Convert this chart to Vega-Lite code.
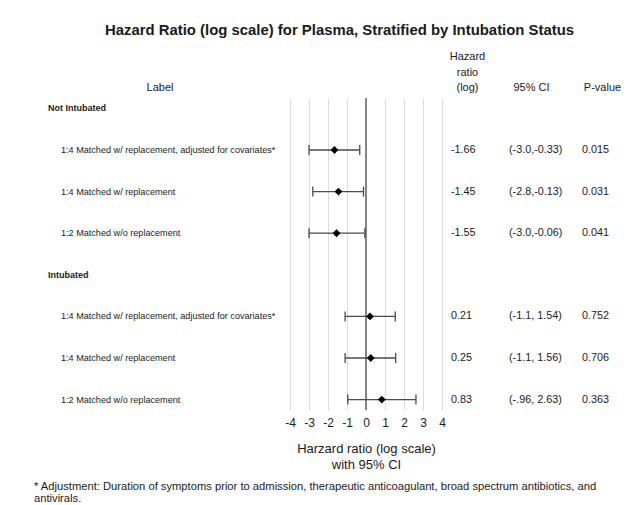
{
  "$schema": "https://vega.github.io/schema/vega-lite/v6.json",
  "background": "white",
  "padding": {"left": 34, "top": 23, "right": 5, "bottom": 5},
  "config": {
    "font": "Liberation Sans",
    "view": {"stroke": null},
    "concat": {"spacing": 0},
    "title": {"color": "#1a1a1a", "fontWeight": "normal", "font": "Liberation Sans"},
    "text": {"color": "#1a1a1a"},
    "axisX": {
      "grid": true,
      "gridColor": "#dcdcdc",
      "gridWidth": 1,
      "domain": false,
      "ticks": false,
      "tickCount": 9,
      "labelOverlap": false,
      "labelFlush": false,
      "labelFontSize": 12,
      "labelColor": "#1a1a1a",
      "labelPadding": 7,
      "labelExpr": "'' + datum.value",
      "titleFontSize": 13,
      "titleFontWeight": "normal",
      "titleColor": "#1a1a1a",
      "titleLineHeight": 16,
      "titlePadding": 14
    }
  },
  "datasets": {
    "rows": [
      {"id": "1", "kind": "group", "label": "Not Intubated"},
      {"id": "2", "kind": "item", "label": "1:4 Matched w/ replacement, adjusted for covariates*", "est": -1.66, "lo": -3.0, "hi": -0.33, "hr_text": "-1.66", "ci_text": "(-3.0,-0.33)", "p_text": "0.015"},
      {"id": "3", "kind": "item", "label": "1:4 Matched w/ replacement", "est": -1.45, "lo": -2.8, "hi": -0.13, "hr_text": "-1.45", "ci_text": "(-2.8,-0.13)", "p_text": "0.031"},
      {"id": "4", "kind": "item", "label": "1:2 Matched w/o replacement", "est": -1.55, "lo": -3.0, "hi": -0.06, "hr_text": "-1.55", "ci_text": "(-3.0,-0.06)", "p_text": "0.041"},
      {"id": "5", "kind": "group", "label": "Intubated"},
      {"id": "6", "kind": "item", "label": "1:4 Matched w/ replacement, adjusted for covariates*", "est": 0.21, "lo": -1.1, "hi": 1.54, "hr_text": "0.21", "ci_text": "(-1.1, 1.54)", "p_text": "0.752"},
      {"id": "7", "kind": "item", "label": "1:4 Matched w/ replacement", "est": 0.25, "lo": -1.1, "hi": 1.56, "hr_text": "0.25", "ci_text": "(-1.1, 1.56)", "p_text": "0.706"},
      {"id": "8", "kind": "item", "label": "1:2 Matched w/o replacement", "est": 0.83, "lo": -0.96, "hi": 2.63, "hr_text": "0.83", "ci_text": "(-.96, 2.63)", "p_text": "0.363"}
    ]
  },
  "title": {
    "text": ["* Adjustment: Duration of symptoms prior to admission, therapeutic anticoagulant, broad spectrum antibiotics, and", "antivirals."],
    "orient": "bottom",
    "anchor": "start",
    "fontSize": 11.2,
    "lineHeight": 12,
    "offset": 10,
    "dx": -14
  },
  "vconcat": [
    {
      "title": {
        "text": "Hazard Ratio (log scale) for Plasma, Stratified by Intubation Status",
        "fontSize": 14.9,
        "fontWeight": "bold",
        "anchor": "middle",
        "offset": 13,
        "dx": 2
      },
      "bounds": "flush",
      "resolve": {"scale": {"y": "shared"}},
      "hconcat": [
        {
          "width": 242,
          "height": 312,
          "data": {"name": "rows"},
          "title": {"text": "Label", "fontSize": 11, "offset": 5, "dx": -9},
          "layer": [
            {
              "transform": [{"filter": "datum.kind == 'group'"}],
              "mark": {"type": "text", "align": "left", "fontWeight": "bold", "fontSize": 9},
              "encoding": {
                "x": {"value": 0},
                "y": {"field": "id", "type": "nominal", "axis": null, "scale": {"type": "point", "padding": 0.25}},
                "text": {"field": "label"}
              }
            },
            {
              "transform": [{"filter": "datum.kind == 'item'"}],
              "mark": {"type": "text", "align": "left", "fontSize": 9.1, "dx": 13},
              "encoding": {
                "x": {"value": 0},
                "y": {"field": "id", "type": "nominal", "axis": null, "scale": {"type": "point", "padding": 0.25}},
                "text": {"field": "label"}
              }
            }
          ]
        },
        {
          "width": 152,
          "height": 312,
          "data": {"name": "rows"},
          "layer": [
            {
              "mark": {"type": "rule", "color": "#858585", "strokeWidth": 2},
              "encoding": {
                "x": {
                  "datum": 0,
                  "type": "quantitative",
                  "scale": {"domain": [-4, 4], "nice": false},
                  "axis": {
                    "values": [-4, -3, -2, -1, 0, 1, 2, 3, 4],
                    "title": ["Harzard ratio (log scale)", "with 95% CI"]
                  }
                }
              }
            },
            {
              "transform": [{"filter": "datum.kind == 'item'"}],
              "mark": {"type": "rule", "color": "#4a4a4a", "strokeWidth": 1.3},
              "encoding": {
                "x": {"field": "lo", "type": "quantitative"},
                "x2": {"field": "hi"},
                "y": {"field": "id", "type": "nominal", "axis": null, "scale": {"type": "point", "padding": 0.25}}
              }
            },
            {
              "transform": [{"filter": "datum.kind == 'item'"}],
              "mark": {"type": "tick", "color": "#4a4a4a", "thickness": 1.3, "size": 10, "opacity": 1},
              "encoding": {
                "x": {"field": "lo", "type": "quantitative"},
                "y": {"field": "id", "type": "nominal", "axis": null, "scale": {"type": "point", "padding": 0.25}}
              }
            },
            {
              "transform": [{"filter": "datum.kind == 'item'"}],
              "mark": {"type": "tick", "color": "#4a4a4a", "thickness": 1.3, "size": 10, "opacity": 1},
              "encoding": {
                "x": {"field": "hi", "type": "quantitative"},
                "y": {"field": "id", "type": "nominal", "axis": null, "scale": {"type": "point", "padding": 0.25}}
              }
            },
            {
              "transform": [{"filter": "datum.kind == 'item'"}],
              "mark": {"type": "point", "shape": "diamond", "filled": true, "color": "black", "size": 62, "opacity": 1},
              "encoding": {
                "x": {"field": "est", "type": "quantitative"},
                "y": {"field": "id", "type": "nominal", "axis": null, "scale": {"type": "point", "padding": 0.25}}
              }
            }
          ]
        },
        {
          "width": 67,
          "height": 312,
          "data": {"name": "rows"},
          "title": {"text": ["Hazard", "ratio", "(log)"], "fontSize": 11, "lineHeight": 15.5, "offset": 5, "dx": -8},
          "transform": [{"filter": "datum.kind == 'item'"}],
          "mark": {"type": "text", "align": "left", "fontSize": 10.8, "dx": 9},
          "encoding": {
            "x": {"value": 0},
            "y": {"field": "id", "type": "nominal", "axis": null, "scale": {"type": "point", "padding": 0.25}},
            "text": {"field": "hr_text"}
          }
        },
        {
          "width": 73,
          "height": 312,
          "data": {"name": "rows"},
          "title": {"text": "95% CI", "fontSize": 11, "offset": 5, "dx": -14},
          "transform": [{"filter": "datum.kind == 'item'"}],
          "mark": {"type": "text", "align": "left", "fontSize": 10.8},
          "encoding": {
            "x": {"value": 0},
            "y": {"field": "id", "type": "nominal", "axis": null, "scale": {"type": "point", "padding": 0.25}},
            "text": {"field": "ci_text"}
          }
        },
        {
          "width": 45,
          "height": 312,
          "data": {"name": "rows"},
          "title": {"text": "P-value", "fontSize": 11, "offset": 5, "dx": -2},
          "transform": [{"filter": "datum.kind == 'item'"}],
          "mark": {"type": "text", "align": "left", "fontSize": 10.8},
          "encoding": {
            "x": {"value": 0},
            "y": {"field": "id", "type": "nominal", "axis": null, "scale": {"type": "point", "padding": 0.25}},
            "text": {"field": "p_text"}
          }
        }
      ]
    }
  ]
}
